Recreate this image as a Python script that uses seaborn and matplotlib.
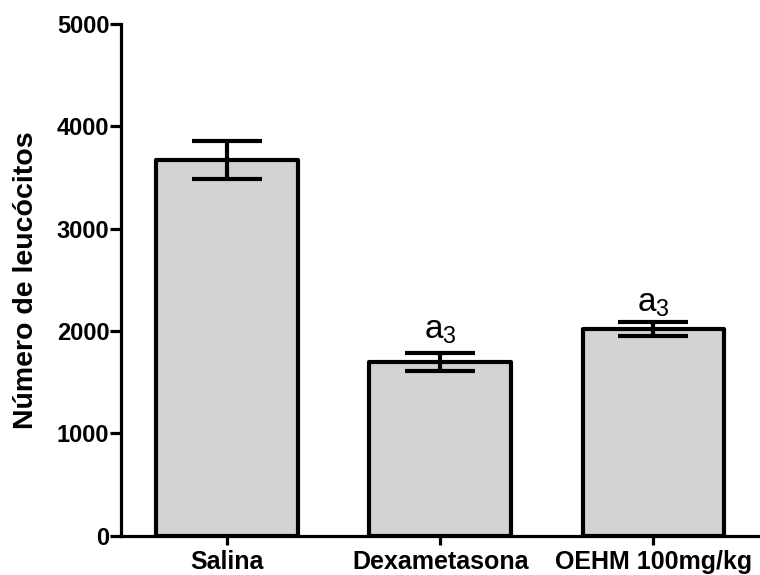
import matplotlib
matplotlib.use("Agg")
import matplotlib.pyplot as plt
import seaborn as sns
import pandas as pd

# Leukocyte counts per treatment group (mean ± SEM)
groups = ["Salina", "Dexametasona", "OEHM 100mg/kg"]
means = [3675, 1700, 2020]
sems = [185, 88, 68]
sig_labels = ["", "a$_3$", "a$_3$"]

df = pd.DataFrame({"grupo": groups, "leucocitos": means})

sns.set_theme(style="ticks")
plt.rcParams["font.family"] = ["Liberation Sans", "DejaVu Sans"]
plt.rcParams["mathtext.default"] = "regular"

fig = plt.figure(figsize=(7.6, 5.75), dpi=100)
ax = fig.add_axes([0.1588, 0.0683, 0.8412, 0.89])

sns.barplot(data=df, x="grupo", y="leucocitos", color="#d3d3d3",
            width=0.665, edgecolor="black", linewidth=3.0,
            saturation=1, errorbar=None, ax=ax)
for p in ax.patches:
    p.set_joinstyle("round")
    p.set_facecolor("#d3d3d3")

ax.errorbar(range(len(groups)), means, yerr=sems, fmt="none",
            ecolor="black", elinewidth=3.0, capsize=25.5, capthick=3.0,
            zorder=5)

# significance markers above the error bars
offsets = [0, 10.5, 7.2]
for i, (m, s, lab) in enumerate(zip(means, sems, sig_labels)):
    if lab:
        ax.annotate(lab, xy=(i, m + s), xytext=(0, offsets[i]),
                    textcoords="offset points", ha="center", va="baseline",
                    fontsize=24, color="black")

ax.set_xlim(-0.5, 2.5)
ax.set_ylim(0, 5000)
ax.set_yticks([0, 1000, 2000, 3000, 4000, 5000])

for side in ("top", "right"):
    ax.spines[side].set_visible(False)
for side in ("left", "bottom"):
    ax.spines[side].set_linewidth(2.3)
    ax.spines[side].set_color("black")

ax.tick_params(axis="y", length=7.7, width=2.3, colors="black",
               labelsize=17, pad=0.5)
ax.tick_params(axis="x", length=6.7, width=2.3, colors="black",
               labelsize=18, pad=3.5)
for lbl in ax.get_xticklabels() + ax.get_yticklabels():
    lbl.set_fontweight("bold")

ax.set_xlabel("")
ax.set_ylabel("Número de leucócitos", fontsize=20.5, fontweight="bold",
              labelpad=13, color="black")

fig.savefig("out.png", dpi=100)
